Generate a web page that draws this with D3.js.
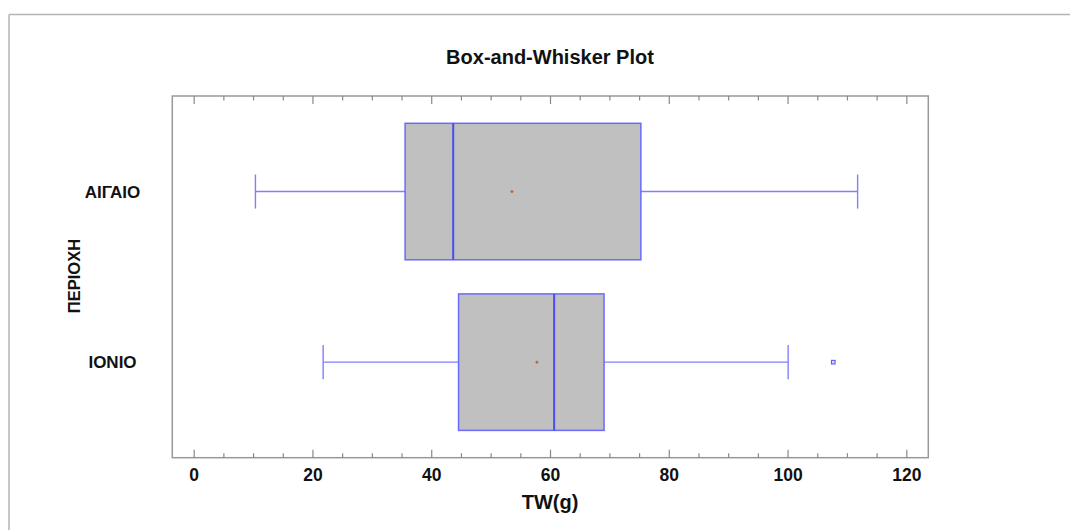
<!DOCTYPE html>
<html>
<head>
<meta charset="utf-8">
<script src="https://cdn.jsdelivr.net/npm/d3@7"></script>
<style>
html,body{margin:0;padding:0;background:#fff;}
svg{display:block;font-family:"Liberation Sans",Arial,sans-serif;}
</style>
</head>
<body>
<svg id="chart" width="1070" height="530"></svg>
<script>
// ---- data ----
const categories = ["ΑΙΓΑΙΟ", "ΙΟΝΙΟ"];
const whiskerLow  = [10.4, 21.8];
const q1          = [35.6, 44.6];
const median      = [43.7, 60.7];
const q3          = [75.3, 69.1];
const whiskerHigh = [111.8, 100.1];
const means       = [53.6, 57.8];
const outliers    = [[], [107.7]];
const majorTicks  = [0, 20, 40, 60, 80, 100, 120];
const title = "Box-and-Whisker Plot";
const xTitle = "TW(g)";
const yTitle = "ΠΕΡΙΟΧΗ";

// ---- layout ----
const svg = d3.select("#chart");
const L = 172.3, R = 928.3, T = 96, B = 457.7;

const x = d3.scaleLinear().domain([-3.6, 123.7]).range([L, R]);
const y = d3.scalePoint().domain(categories).range([T, B]).padding(0.56);
const step = y.step();
const boxH = step * 0.8;
const capH = step * 0.2;

// outer frame lines
svg.append("line").attr("x1", 9).attr("y1", 14.5).attr("x2", 1070).attr("y2", 14.5)
  .attr("stroke", "#b4b4b4").attr("stroke-width", 1.5);
svg.append("line").attr("x1", 9).attr("y1", 14.5).attr("x2", 9).attr("y2", 530)
  .attr("stroke", "#b4b4b4").attr("stroke-width", 1.5);

// title
svg.append("text").attr("x", 550).attr("y", 63.5).attr("text-anchor", "middle")
  .attr("font-size", "20px").attr("font-weight", "bold").attr("fill", "#111").text(title);

// plot frame
svg.append("rect").attr("x", L).attr("y", T).attr("width", R - L).attr("height", B - T)
  .attr("fill", "none").attr("stroke", "#999").attr("stroke-width", 1.5);

// ticks (minor every 5, major every 20)
const minorTicks = d3.range(0, 121, 5).filter(v => !majorTicks.includes(v));
const axB = svg.append("g").attr("transform", `translate(0,${B})`);
axB.call(d3.axisBottom(x).tickValues(majorTicks).tickSize(-8).tickFormat(d3.format("d")).tickPadding(20));
axB.select(".domain").remove();
axB.selectAll(".tick line").attr("stroke", "#888").attr("stroke-width", 1.2);
axB.selectAll(".tick text").attr("font-size", "17.5px").attr("font-weight", "bold")
  .attr("fill", "#111").attr("font-family", "Liberation Sans, Arial, sans-serif").attr("dy", "0.2em");
const axBm = svg.append("g").attr("transform", `translate(0,${B})`);
axBm.call(d3.axisBottom(x).tickValues(minorTicks).tickSize(-4.5).tickFormat(""));
axBm.select(".domain").remove();
axBm.selectAll(".tick line").attr("stroke", "#888").attr("stroke-width", 1.2);

const axT = svg.append("g").attr("transform", `translate(0,${T})`);
axT.call(d3.axisTop(x).tickValues(majorTicks).tickSize(-8).tickFormat(""));
axT.select(".domain").remove();
axT.selectAll(".tick line").attr("stroke", "#888").attr("stroke-width", 1.2);
const axTm = svg.append("g").attr("transform", `translate(0,${T})`);
axTm.call(d3.axisTop(x).tickValues(minorTicks).tickSize(-4.5).tickFormat(""));
axTm.select(".domain").remove();
axTm.selectAll(".tick line").attr("stroke", "#888").attr("stroke-width", 1.2);

// category labels
svg.selectAll("text.cat").data(categories).enter().append("text").attr("class", "cat")
  .attr("x", 112.5).attr("y", d => y(d)).attr("dy", "0.36em").attr("text-anchor", "middle")
  .attr("font-size", "17px").attr("font-weight", "bold").attr("fill", "#111").text(d => d);

// axis titles
svg.append("text").attr("x", 550).attr("y", 508.5).attr("text-anchor", "middle")
  .attr("font-size", "20px").attr("font-weight", "bold").attr("fill", "#111").text(xTitle);
svg.append("text").attr("transform", "translate(80,276) rotate(-90)").attr("text-anchor", "middle")
  .attr("font-size", "16.5px").attr("font-weight", "bold").attr("fill", "#111").text(yTitle);

// boxes
const idx = d3.range(categories.length);
const g = svg.append("g");
const wColor = "#8080ff";
const bColor = "#6a6aff";

idx.forEach(i => {
  const cy = y(categories[i]);
  // whiskers
  g.append("line").attr("x1", x(whiskerLow[i])).attr("x2", x(q1[i])).attr("y1", cy).attr("y2", cy)
    .attr("stroke", wColor).attr("stroke-width", 1.4);
  g.append("line").attr("x1", x(q3[i])).attr("x2", x(whiskerHigh[i])).attr("y1", cy).attr("y2", cy)
    .attr("stroke", wColor).attr("stroke-width", 1.4);
  g.append("line").attr("x1", x(whiskerLow[i])).attr("x2", x(whiskerLow[i]))
    .attr("y1", cy - capH / 2).attr("y2", cy + capH / 2).attr("stroke", wColor).attr("stroke-width", 1.4);
  g.append("line").attr("x1", x(whiskerHigh[i])).attr("x2", x(whiskerHigh[i]))
    .attr("y1", cy - capH / 2).attr("y2", cy + capH / 2).attr("stroke", wColor).attr("stroke-width", 1.4);
  // box
  g.append("rect").attr("x", x(q1[i])).attr("y", cy - boxH / 2)
    .attr("width", x(q3[i]) - x(q1[i])).attr("height", boxH)
    .attr("fill", "#c0c0c0").attr("stroke", bColor).attr("stroke-width", 1.5);
  // median
  g.append("line").attr("x1", x(median[i])).attr("x2", x(median[i]))
    .attr("y1", cy - boxH / 2).attr("y2", cy + boxH / 2).attr("stroke", "#4b4bf0").attr("stroke-width", 2);
  // mean marker
  const mx = x(means[i]);
  g.append("path").attr("d", `M${mx - 1.5},${cy}H${mx + 1.5}M${mx},${cy - 1.5}V${cy + 1.5}`)
    .attr("stroke", "#b8602a").attr("stroke-width", 1.2);
  // outliers
  outliers[i].forEach(v => {
    g.append("rect").attr("x", x(v) - 1.8).attr("y", cy - 1.8).attr("width", 3.6).attr("height", 3.6)
      .attr("fill", "#dcdcff").attr("stroke", "#5a5aff").attr("stroke-width", 1.1);
  });
});
</script>
</body>
</html>
